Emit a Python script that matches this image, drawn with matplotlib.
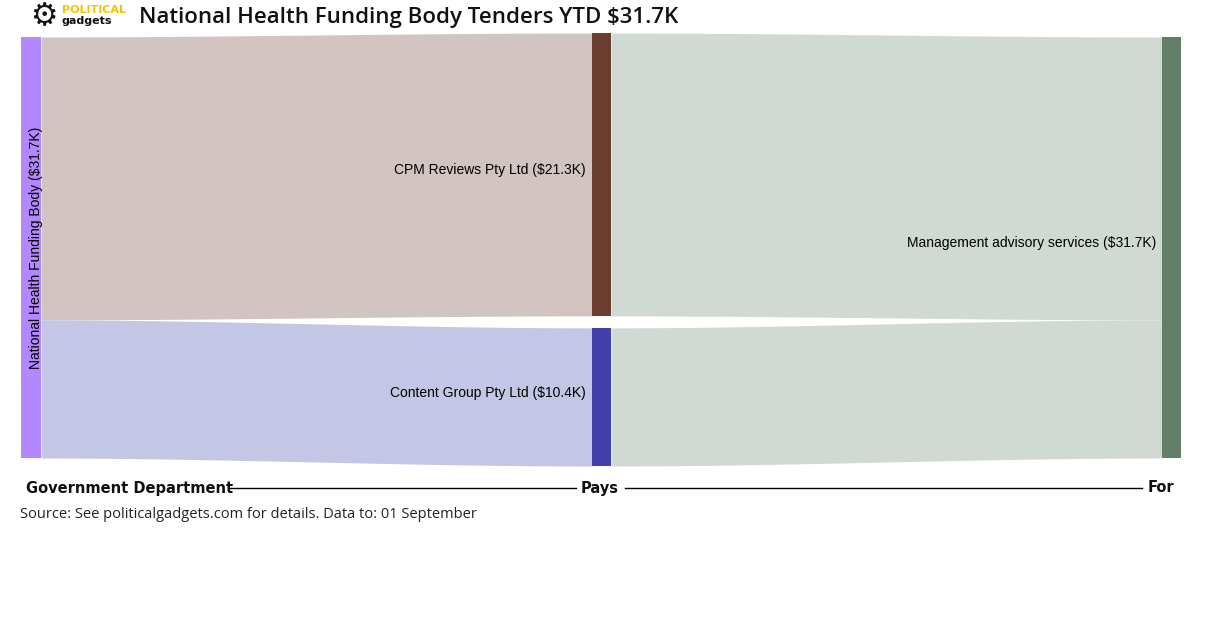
import matplotlib
matplotlib.use("Agg")
import matplotlib.pyplot as plt
import numpy as np

source = "National Health Funding Body"
payees = ["CPM Reviews Pty Ltd", "Content Group Pty Ltd"]
values = [21.3, 10.4]
category = "Management advisory services"
payee_colors = ["#6b3d2e", "#4040a8"]
link_colors = ["#d2c4c0", "#c3c6e4"]
total = sum(values)

fig = plt.figure(figsize=(12.24, 6.29), dpi=100)
ax = fig.add_axes([0, 0, 1, 1])
ax.set_xlim(0, 1224); ax.set_ylim(629, 0); ax.axis("off")

top, height = 37, 421
scale = height / total
gap = 12
xl0, xl1 = 21, 41
xm0, xm1 = 592, 611
xr0, xr1 = 1162, 1181
lab = dict(fontsize=10, family="Liberation Sans")

def link(xa, xb, ya0, ya1, yb0, yb1, color):
    t = np.linspace(0, 1, 200)
    s = 3*t**2 - 2*t**3
    x = xa + (xb - xa) * t
    y0 = ya0 + (yb0 - ya0) * s
    y1 = ya1 + (yb1 - ya1) * s
    ax.fill_between(x, y0, y1, color=color, lw=0)

ly = top; my = top - 4; ry = top
for i, v in enumerate(values):
    h = v * scale
    link(xl1, xm0, ly, ly + h, my, my + h, link_colors[i])
    link(xm1, xr0, my, my + h, ry, ry + h, "#d0d9d2")
    ax.add_patch(plt.Rectangle((xm0, my), xm1 - xm0, h, color=payee_colors[i], lw=0))
    ax.text(xm0 - 6, my + h / 2 - 4, f"{payees[i]} (${v}K)", ha="right", va="center", **lab)
    ly += h; ry += h; my += h + gap

ax.add_patch(plt.Rectangle((xl0, top), xl1 - xl0, height, color="#b388ff", lw=0))
ax.add_patch(plt.Rectangle((xr0, top), xr1 - xr0, height, color="#627d68", lw=0))
ax.text(36, top + height / 2, f"{source} (${total:.1f}K)", rotation=90,
        ha="center", va="center", **lab)
ax.text(xr0 - 6, 243, f"{category} (${total:.1f}K)", ha="right", va="center", **lab)

yb = 488
bold = dict(fontsize=10.5, fontweight="heavy", color="#111111")
ax.text(26, yb, "Government Department", ha="left", va="center", **bold)
ax.plot([230, 576], [yb, yb], color="black", lw=1)
ax.text(600, yb, "Pays", ha="center", va="center", **bold)
ax.plot([625, 1142], [yb, yb], color="black", lw=1)
ax.text(1161, yb, "For", ha="center", va="center", **bold)
ax.text(20, 515, "Source: See politicalgadgets.com for details. Data to: 01 September",
        ha="left", va="center", fontsize=10.5, color="#222222", family="Open Sans")

ax.text(44, 17, "\u2699", ha="center", va="center", fontsize=22, color="#111111")
ax.text(62, 10, "POLITICAL", ha="left", va="center", fontsize=8, fontweight="bold", color="#f5c400")
ax.text(62, 21, "gadgets", ha="left", va="center", fontsize=8, fontweight="bold", color="#111111")
ax.text(139, 18, f"National Health Funding Body Tenders YTD ${total:.1f}K", ha="left",
        va="center", fontsize=16, color="#111111", family="Open Sans", fontweight="semibold")

fig.savefig("out.png", dpi=100)
